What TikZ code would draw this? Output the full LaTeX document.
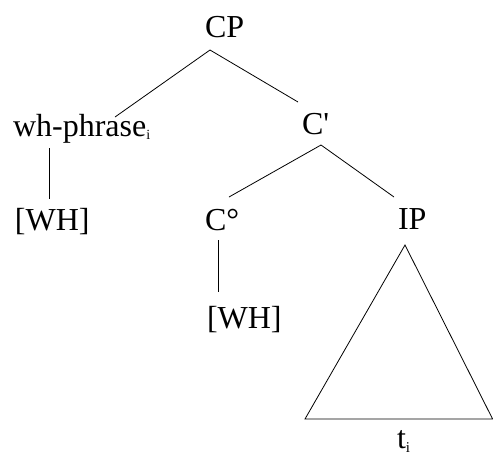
\documentclass[tikz,border=0pt]{standalone}
\usepackage{fontspec}
\setmainfont{Liberation Serif}
\tikzset{
  lbl/.style={inner sep=0pt, outer sep=0pt, anchor=base west, font=\fontsize{32}{38}\selectfont},
  branch/.style={line width=0.8pt, black},
}
\newcommand{\smallsub}[2]{\raisebox{-#2}{\fontsize{#1}{#1}\selectfont i}}
\begin{document}
\begin{tikzpicture}[x=1pt, y=-1pt]
  \useasboundingbox (0,0) rectangle (493,459);
  % labels
  \node[lbl] (cp)   at (205,37)  {CP};
  \node[lbl] (wh)   at (13,136)  {wh-phrase\smallsub{14}{3pt}};
  \node[lbl] (cbar) at (302,134) {C\textquotesingle};
  \node[lbl] (wh1)  at (15,230)  {[WH]};
  \node[lbl] (c0)   at (205,230) {C\textdegree};
  \node[lbl] (ip)   at (398,229) {IP};
  \node[lbl] (wh2)  at (207,328) {[WH]};
  \node[lbl] (t)    at (397,448) {t\smallsub{15}{4pt}};
  % connector end points
  \coordinate (cp-foot)   at (210,50);
  \coordinate (wh-top)    at (115,117);
  \coordinate (cbar-top)  at (298,102);
  \coordinate (wh-foot)   at (49,148);
  \coordinate (wh1-top)   at (49,199);
  \coordinate (cbar-foot) at (321,145);
  \coordinate (c0-top)    at (229,197);
  \coordinate (ip-top)    at (394,197);
  \coordinate (c0-foot)   at (218,240);
  \coordinate (wh2-top)   at (218,292);
  \coordinate (ip-apex)   at (405,245);
  \coordinate (tri-l)     at (305,419);
  \coordinate (tri-r)     at (492.6,419);
  % branches
  \draw[branch] (cp-foot) -- (wh-top);
  \draw[branch] (cp-foot) -- (cbar-top);
  \draw[branch] (wh-foot) -- (wh1-top);
  \draw[branch] (cbar-foot) -- (c0-top);
  \draw[branch] (cbar-foot) -- (ip-top);
  \draw[branch] (c0-foot) -- (wh2-top);
  \draw[branch] (ip-apex) -- (tri-l) -- (tri-r) -- cycle;
\end{tikzpicture}
\end{document}
